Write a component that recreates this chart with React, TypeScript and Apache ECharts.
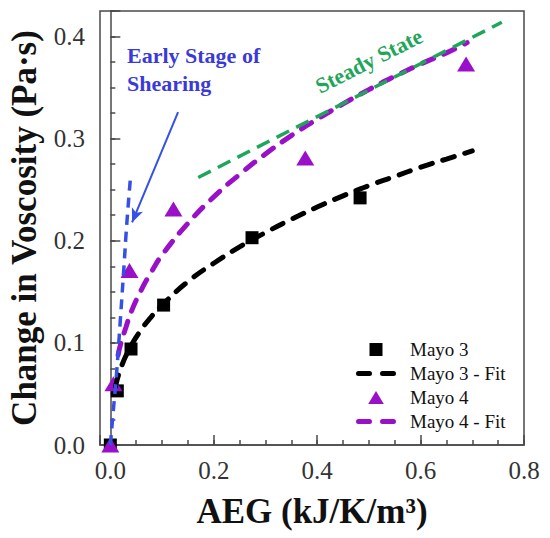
import React, { useEffect, useRef } from "react";
import * as echarts from "echarts";

// ---- data ----
const mayo3X = [0.0, 0.0135, 0.04, 0.103, 0.274, 0.483];
const mayo3Y = [0.0, 0.053, 0.094, 0.137, 0.203, 0.242];

const mayo4X = [0.0, 0.006, 0.037, 0.122, 0.377, 0.688];
const mayo4Y = [0.0, 0.06, 0.171, 0.231, 0.281, 0.373];

const mayo3FitX = [0.01, 0.02, 0.04, 0.06, 0.08, 0.1, 0.15, 0.2, 0.25, 0.3, 0.35, 0.4, 0.45, 0.5, 0.55, 0.6, 0.65, 0.7];
const mayo3FitY = [0.057, 0.075, 0.097, 0.113, 0.126, 0.137, 0.16, 0.178, 0.194, 0.208, 0.221, 0.233, 0.244, 0.254, 0.263, 0.272, 0.28, 0.288];

const mayo4FitX = [0.015, 0.02, 0.03, 0.04, 0.06, 0.08, 0.1, 0.15, 0.2, 0.25, 0.3, 0.35, 0.4, 0.45, 0.5, 0.55, 0.6, 0.65, 0.69];
const mayo4FitY = [0.088, 0.099, 0.115, 0.13, 0.152, 0.17, 0.186, 0.217, 0.243, 0.265, 0.285, 0.303, 0.319, 0.334, 0.348, 0.361, 0.373, 0.384, 0.394];

const steadyX = [0.17, 0.757];
const steadyY = [0.262, 0.414];

const earlyX = [0.0, 0.006, 0.012, 0.019, 0.026, 0.032, 0.039];
const earlyY = [0.0, 0.035, 0.07, 0.12, 0.172, 0.218, 0.262];

const arrowFrom = [0.131, 0.326];
const arrowTo = [0.042, 0.218];

const legendNames = ["Mayo 3", "Mayo 3 - Fit", "Mayo 4", "Mayo 4 - Fit"];

const zip = (xs: number[], ys: number[]) => xs.map((x, i) => [x, ys[i]]);

const FONT = "'Times New Roman', 'Liberation Serif', serif";
const AXIS_COLOR = "#4a4a4a";
const PURPLE = "#9a10c8";
const BLUE_LINE = "#3650e6";
const BLUE_TEXT = "#3a3adb";
const GREEN = "#1fa65a";

const squareIcon = "path://M0,0H10V10H0Z";
const triangleIcon = "path://M6,0L12,10H0Z";
const dashIcon =
  "path://M2.5,0H13.5A2.5,2.5,0,0,1,13.5,5H2.5A2.5,2.5,0,0,1,2.5,0Z M26.5,0H37.5A2.5,2.5,0,0,1,37.5,5H26.5A2.5,2.5,0,0,1,26.5,0Z";

export default function App() {
  const ref = useRef<HTMLDivElement>(null);

  useEffect(() => {
    if (!ref.current) return;
    const chart = echarts.init(ref.current, null, { renderer: "svg" });

    const isMult = (v: number, step: number) => Math.abs(v / step - Math.round(v / step)) < 1e-6;

    const option: any = {
      animation: false,
      backgroundColor: "#fff",
      grid: {
        left: 100,
        right: 26,
        top: 11,
        bottom: 93,
        show: true,
        borderColor: AXIS_COLOR,
        borderWidth: 1.5,
        containLabel: false,
        outerBoundsMode: "none",
      },
      xAxis: [
        {
          type: "value",
          min: -0.02,
          max: 0.8,
          splitNumber: 16,
          position: "bottom",
          axisLine: { show: true, lineStyle: { color: AXIS_COLOR, width: 1.5 } },
          axisTick: { show: true, inside: true, length: 5, lineStyle: { color: AXIS_COLOR, width: 1.5 } },
          axisLabel: { show: false },
          splitLine: { show: false },
        },
        {
          type: "value",
          min: -0.02,
          max: 0.8,
          splitNumber: 4,
          position: "bottom",
          offset: 0,
          name: "AEG (kJ/K/m³)",
          nameLocation: "middle",
          nameGap: 49,
          nameTextStyle: { fontFamily: FONT, fontSize: 35, fontWeight: "bold", color: "#111" },
          axisLine: { show: false },
          axisTick: { show: true, inside: true, length: 10, lineStyle: { color: AXIS_COLOR, width: 1.5 } },
          axisLabel: {
            show: true,
            margin: 13,
            fontFamily: FONT,
            fontSize: 25,
            color: "#333",
            formatter: (v: number) => (v < -0.001 || !isMult(v, 0.2) ? "" : v.toFixed(1)),
          },
          splitLine: { show: false },
        },
      ],
      yAxis: [
        {
          type: "value",
          min: 0,
          max: 0.425,
          interval: 0.025,
          position: "left",
          axisLine: { show: true, lineStyle: { color: AXIS_COLOR, width: 1.5 } },
          axisTick: { show: true, inside: true, length: 5, lineStyle: { color: AXIS_COLOR, width: 1.5 } },
          axisLabel: { show: false },
          splitLine: { show: false },
        },
        {
          type: "value",
          min: 0,
          max: 0.425,
          interval: 0.1,
          position: "left",
          offset: 0,
          name: "Change in Voscosity (Pa·s)",
          nameLocation: "middle",
          nameGap: 58,
          nameRotate: 90,
          nameTextStyle: { fontFamily: FONT, fontSize: 35, fontWeight: "bold", color: "#111" },
          axisLine: { show: false },
          axisTick: { show: true, inside: true, length: 10, lineStyle: { color: AXIS_COLOR, width: 1.5 } },
          axisLabel: {
            show: true,
            margin: 15,
            fontFamily: FONT,
            fontSize: 25,
            color: "#333",
            formatter: (v: number) => (v > 0.41 ? "" : v.toFixed(1)),
          },
          splitLine: { show: false },
        },
      ],
      legend: {
        orient: "vertical",
        left: 356,
        top: 340,
        itemWidth: 40,
        itemHeight: 13,
        itemGap: 5,
        padding: 0,
        selectedMode: false,
        itemStyle: { borderWidth: 0, opacity: 1 },
        textStyle: { fontFamily: FONT, fontSize: 19, color: "#111", padding: [0, 0, 0, 9] },
        data: [
          { name: legendNames[0], icon: squareIcon },
          { name: legendNames[1], icon: dashIcon },
          { name: legendNames[2], icon: triangleIcon },
          { name: legendNames[3], icon: dashIcon },
        ],
      },
      graphic: [
        {
          type: "text",
          left: 127,
          top: 41,
          silent: true,
          style: {
            text: "Early Stage of\nShearing",
            font: `bold 22px ${FONT}`,
            fill: BLUE_TEXT,
            lineHeight: 28,
          },
        },
        {
          type: "text",
          x: 369,
          y: 61,
          rotation: 0.47,
          silent: true,
          style: {
            text: "Steady State",
            font: `bold 22px ${FONT}`,
            fill: GREEN,
            align: "center",
            verticalAlign: "middle",
          },
        },
      ],
      series: [
        {
          name: legendNames[0],
          type: "scatter",
          symbol: "rect",
          symbolSize: 13,
          itemStyle: { color: "#000", opacity: 1 },
          data: zip(mayo3X, mayo3Y),
          z: 3,
        },
        {
          name: legendNames[2],
          type: "scatter",
          symbol: "triangle",
          symbolSize: [18, 15],
          itemStyle: { color: PURPLE, opacity: 1 },
          data: zip(mayo4X, mayo4Y),
          z: 3,
        },
        {
          name: legendNames[1],
          type: "line",
          symbol: "none",
          showSymbol: false,
          smooth: true,
          itemStyle: { color: "#000", borderWidth: 0 },
          lineStyle: { color: "#000", width: 5, type: [12, 11], cap: "round" },
          data: zip(mayo3FitX, mayo3FitY),
          z: 4,
        },
        {
          name: legendNames[3],
          type: "line",
          symbol: "none",
          showSymbol: false,
          smooth: true,
          itemStyle: { color: PURPLE, borderWidth: 0 },
          lineStyle: { color: PURPLE, width: 5, type: [12, 11], cap: "round" },
          data: zip(mayo4FitX, mayo4FitY),
          z: 4,
        },
        {
          name: "Steady State",
          type: "line",
          symbol: "none",
          showSymbol: false,
          itemStyle: { color: GREEN },
          lineStyle: { color: GREEN, width: 3.5, type: [14, 8] },
          data: zip(steadyX, steadyY),
          z: 5,
        },
        {
          name: "Early Stage of Shearing",
          type: "line",
          symbol: "none",
          showSymbol: false,
          smooth: true,
          itemStyle: { color: BLUE_LINE },
          lineStyle: { color: BLUE_LINE, width: 3.5, type: [10, 7] },
          data: zip(earlyX, earlyY),
          z: 6,
          markLine: {
            silent: true,
            symbol: ["none", "arrow"],
            symbolSize: [9, 14],
            label: { show: false },
            lineStyle: { color: BLUE_LINE, width: 2, type: "solid" },
            data: [[{ coord: arrowFrom }, { coord: arrowTo }]],
          },
        },
      ],
    };

    chart.setOption(option);
    return () => chart.dispose();
  }, []);

  return (
    <div
      ref={ref}
      style={{ position: "absolute", left: 0, top: 0, width: 550, height: 538, background: "#fff" }}
    />
  );
}
